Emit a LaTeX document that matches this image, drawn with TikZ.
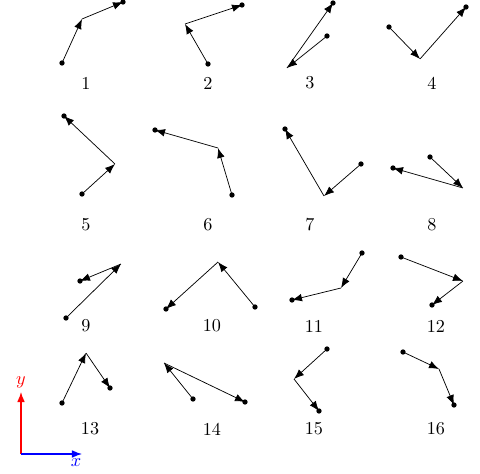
\documentclass[tikz,border=0pt]{standalone}
\usetikzlibrary{arrows.meta}

\begin{document}
\begin{tikzpicture}[
    x=0.55pt, y=-0.55pt,
    arrow/.style={-{Latex[length=5.5pt,width=4.2pt]}},
    pt/.style={circle, fill, inner sep=0pt, minimum size=2.9pt},
    num/.style={font=\normalsize},
    axis/.style={-{Latex[length=5.5pt,width=4.2pt]}, semithick}
]
\useasboundingbox (0,0) rectangle (480,474);

% Row 1
\node[pt] (s1) at (62,63) {};   \coordinate (m1) at (82,19);   \node[pt] (e1) at (123,2) {};
\node[pt] (s2) at (208,64) {};  \coordinate (m2) at (185,24);  \node[pt] (e2) at (242,5) {};
\node[pt] (s3) at (327,36) {};  \coordinate (m3) at (287,68);  \node[pt] (e3) at (333,3) {};
\node[pt] (s4) at (389,27) {};  \coordinate (m4) at (420,59);  \node[pt] (e4) at (466,7) {};

% Row 2
\node[pt] (s5) at (82,194) {};  \coordinate (m5) at (115,164); \node[pt] (e5) at (64,116) {};
\node[pt] (s6) at (232,195) {}; \coordinate (m6) at (218,148); \node[pt] (e6) at (155,130) {};
\node[pt] (s7) at (361,164) {}; \coordinate (m7) at (324,196); \node[pt] (e7) at (285,129) {};
\node[pt] (s8) at (430,157) {}; \coordinate (m8) at (463,188); \node[pt] (e8) at (393,168) {};

% Row 3
\node[pt] (s9) at (66,318) {};   \coordinate (m9) at (121,264);  \node[pt] (e9) at (80,281) {};
\node[pt] (s10) at (255,307) {}; \coordinate (m10) at (218,262); \node[pt] (e10) at (166,309) {};
\node[pt] (s11) at (362,253) {}; \coordinate (m11) at (341,288); \node[pt] (e11) at (292,300) {};
\node[pt] (s12) at (401,257) {}; \coordinate (m12) at (463,281); \node[pt] (e12) at (432,305) {};

% Row 4
\node[pt] (s13) at (62,403) {};  \coordinate (m13) at (86,353);  \node[pt] (e13) at (110,388) {};
\node[pt] (s14) at (193,399) {}; \coordinate (m14) at (164,363); \node[pt] (e14) at (245,402) {};
\node[pt] (s15) at (327,349) {}; \coordinate (m15) at (294,379); \node[pt] (e15) at (319,411) {};
\node[pt] (s16) at (403,352) {}; \coordinate (m16) at (439,369); \node[pt] (e16) at (454,405) {};

% Two-step paths
\foreach \i in {1,...,16} {
    \draw[arrow] (s\i.center) -- (m\i);
    \draw[arrow] (m\i) -- (e\i.center);
}

% Labels
\node[num] (n1) at (86,83) {1};
\node[num] (n2) at (208,83) {2};
\node[num] (n3) at (310,83) {3};
\node[num] (n4) at (432,83) {4};
\node[num] (n5) at (86,225) {5};
\node[num] (n6) at (208,225) {6};
\node[num] (n7) at (310,225) {7};
\node[num] (n8) at (432,225) {8};
\node[num] (n9) at (86,326) {9};
\node[num] (n10) at (212,326) {10};
\node[num] (n11) at (314,326) {11};
\node[num] (n12) at (436,326) {12};
\node[num] (n13) at (90,429) {13};
\node[num] (n14) at (212,429) {14};
\node[num] (n15) at (314,429) {15};
\node[num] (n16) at (436,429) {16};

% Axes
\coordinate (O) at (21,454);
\coordinate (X) at (82,454);
\coordinate (Y) at (21,392);
\draw[axis, red] (O) -- (Y);
\draw[axis, blue] (O) -- (X);
\node[red] (ylab) at (21,382) {$y$};
\node[blue] (xlab) at (76,463) {$x$};
\end{tikzpicture}
\end{document}
